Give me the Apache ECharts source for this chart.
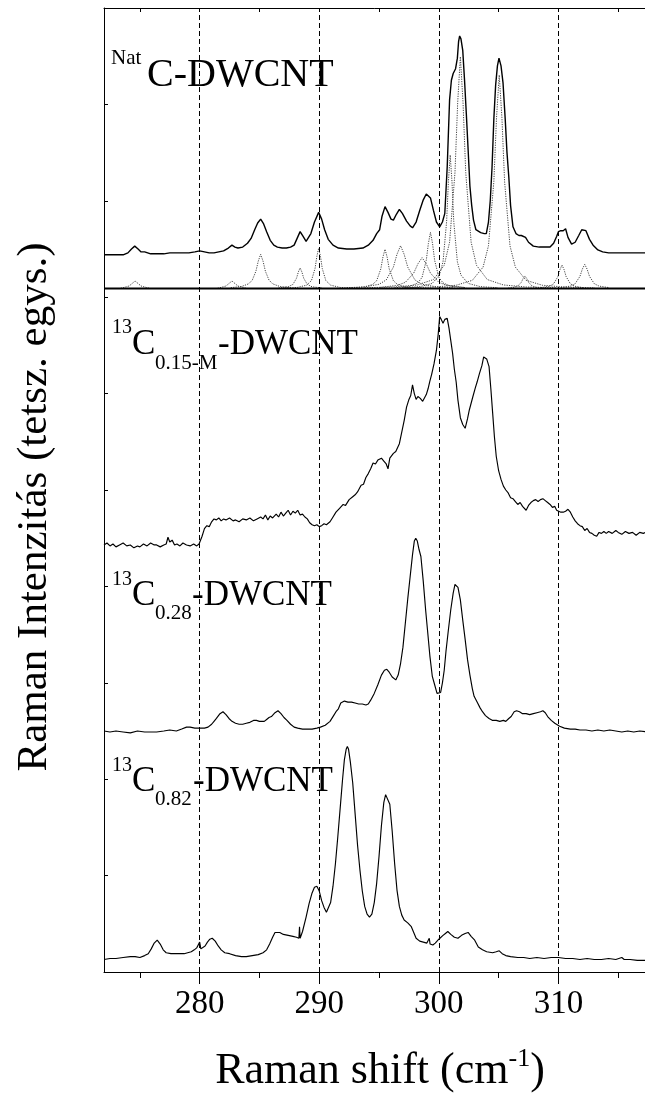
<!DOCTYPE html>
<html>
<head>
<meta charset="utf-8">
<script src="https://cdn.jsdelivr.net/npm/echarts@6/dist/echarts.min.js"></script>
<style>
  html, body { margin: 0; padding: 0; background: #fff; }
  #chart { width: 645px; height: 1099px; }
</style>
</head>
<body>
<div id="chart"></div>
<script>
// Raman shift ticks (cm^-1)
const shiftTicks = [280, 290, 300, 310];
const shiftMinorTicks = [275, 285, 295, 305, 315];

// NatC-DWCNT measured spectrum (shift, intensity offset in arbitrary units)
const natSpectrum = [
  [272.0,7.44],[272.5,7.44],[273.0,7.44],[273.6,7.44],[274.0,7.46],[274.3,7.50],[274.57,7.53],[274.85,7.50],
  [275.1,7.47],[275.4,7.47],[275.9,7.45],[276.4,7.45],[277.0,7.45],[277.5,7.46],[278.05,7.46],[278.6,7.46],
  [279.1,7.46],[279.6,7.47],[280.0,7.48],[280.4,7.47],[280.8,7.46],[281.2,7.46],[281.6,7.47],[282.0,7.48],
  [282.4,7.51],[282.7,7.54],[282.95,7.52],[283.2,7.51],[283.6,7.52],[284.0,7.56],[284.3,7.61],[284.6,7.70],
  [284.85,7.77],[285.1,7.81],[285.35,7.76],[285.6,7.68],[285.9,7.59],[286.2,7.54],[286.5,7.52],[286.9,7.51],
  [287.25,7.51],[287.6,7.52],[287.9,7.54],[288.15,7.61],[288.4,7.68],[288.65,7.63],[288.9,7.58],[289.05,7.58],
  [289.3,7.66],[289.6,7.78],[289.95,7.88],[290.2,7.81],[290.45,7.70],[290.75,7.60],[291.15,7.54],[291.6,7.51],
  [292.3,7.50],[292.9,7.50],[293.65,7.51],[294.1,7.54],[294.5,7.59],[294.8,7.66],[295.05,7.70],[295.25,7.84],
  [295.5,7.94],[295.75,7.88],[296.0,7.81],[296.2,7.80],[296.45,7.86],[296.7,7.91],[296.95,7.87],[297.3,7.79],
  [297.6,7.74],[297.8,7.72],[298.1,7.78],[298.4,7.90],[298.7,8.01],[298.95,8.07],[299.1,8.08],[299.3,8.03],
  [299.55,7.90],[299.8,7.78],[300.07,7.73],[300.3,7.78],[300.5,7.87],[300.7,8.35],[300.9,9.05],[301.05,9.25],
  [301.2,9.32],[301.4,9.37],[301.55,9.48],[301.65,9.65],[301.74,9.71],[301.85,9.68],[302.0,9.56],[302.15,9.25],
  [302.3,8.90],[302.45,8.53],[302.6,8.15],[302.75,7.95],[302.9,7.80],[303.1,7.70],[303.5,7.67],[303.8,7.66],
  [303.97,7.66],[304.15,7.78],[304.3,8.00],[304.45,8.35],[304.6,8.85],[304.75,9.20],[304.9,9.40],[305.03,9.48],
  [305.2,9.40],[305.37,9.22],[305.55,8.85],[305.7,8.50],[305.85,8.25],[306.0,7.95],[306.2,7.73],[306.45,7.66],
  [306.7,7.64],[306.9,7.64],[307.05,7.65],[307.25,7.62],[307.5,7.57],[307.9,7.53],[308.4,7.52],[308.9,7.52],
  [309.3,7.52],[309.6,7.56],[309.85,7.63],[310.0,7.68],[310.2,7.69],[310.4,7.69],[310.6,7.71],[310.8,7.62],
  [311.1,7.55],[311.4,7.57],[311.7,7.64],[311.95,7.70],[312.1,7.71],[312.3,7.69],[312.6,7.60],[312.9,7.54],
  [313.3,7.49],[313.7,7.47],[314.2,7.46],[314.7,7.46],[315.2,7.46],[315.8,7.46],[316.4,7.46],[317.0,7.46],
  [317.5,7.46]
];

// Zero line of the fitted components
const natFitBaseline = [[272.0, 7.09], [317.6, 7.09]];

// Fitted Lorentzian components of the NatC-DWCNT spectrum
const natFit274 = [[273.4,7.093],[273.6,7.099],[274.1,7.116],[274.35,7.142],[274.6,7.168],[274.85,7.142],[275.1,7.116],[275.6,7.099],[275.8,7.093]];
const natFit283 = [[281.5,7.093],[281.7,7.099],[282.2,7.116],[282.45,7.142],[282.7,7.168],[282.95,7.142],[283.2,7.116],[283.7,7.099],[283.9,7.093]];
const natFit285 = [[282.6,7.099],[283.5,7.111],[284.1,7.139],[284.4,7.177],[284.7,7.268],[284.9,7.374],[285.1,7.445],[285.3,7.374],[285.5,7.268],[285.8,7.177],[286.1,7.139],[286.7,7.111],[287.6,7.099]];
const natFit288 = [[286.6,7.096],[287.4,7.108],[287.8,7.133],[288.1,7.197],[288.25,7.261],[288.4,7.304],[288.55,7.261],[288.7,7.197],[289.0,7.133],[289.4,7.108],[290.2,7.096]];
const natFit290 = [[286.95,7.094],[288.15,7.101],[288.95,7.125],[289.35,7.173],[289.65,7.299],[289.8,7.424],[289.95,7.507],[290.1,7.424],[290.25,7.299],[290.55,7.173],[290.95,7.125],[291.75,7.101],[292.95,7.094]];
const natFit295 = [[292.5,7.095],[293.75,7.106],[294.45,7.131],[294.8,7.171],[295.15,7.294],[295.325,7.416],[295.5,7.497],[295.675,7.416],[295.85,7.294],[296.2,7.171],[296.55,7.131],[297.25,7.106],[298.5,7.095]];
const natFit297 = [[292.3,7.098],[293.8,7.107],[295.0,7.134],[295.6,7.179],[296.2,7.312],[296.5,7.445],[296.8,7.534],[297.1,7.445],[297.4,7.312],[298.0,7.179],[298.6,7.134],[299.8,7.107],[301.3,7.098]];
const natFit298 = [[295.1,7.102],[296.5,7.122],[297.2,7.154],[297.9,7.25],[298.25,7.346],[298.6,7.41],[298.95,7.346],[299.3,7.25],[300.0,7.154],[300.7,7.122],[302.1,7.102]];
const natFit299 = [[296.3,7.098],[297.55,7.112],[298.25,7.148],[298.6,7.207],[298.95,7.382],[299.125,7.556],[299.3,7.673],[299.475,7.556],[299.65,7.382],[300.0,7.207],[300.35,7.148],[301.05,7.112],[302.3,7.098]];
const natFit301 = [[296.95,7.098],[298.45,7.110],[299.45,7.143],[300.05,7.229],[300.35,7.367],[300.65,7.783],[300.8,8.198],[300.95,8.475],[301.1,8.198],[301.25,7.783],[301.55,7.367],[301.85,7.229],[302.45,7.143],[303.45,7.110],[304.95,7.098]];
const natFit302 = [[293.8,7.098],[296.3,7.106],[298.2,7.127],[299.55,7.183],[300.45,7.331],[300.9,7.571],[301.35,8.293],[301.575,9.014],[301.8,9.495],[302.025,9.014],[302.25,8.293],[302.7,7.571],[303.15,7.331],[304.05,7.183],[305.4,7.127],[307.3,7.106],[309.8,7.098]];
const natFit305 = [[297.05,7.097],[299.55,7.105],[301.45,7.124],[302.8,7.175],[303.7,7.312],[304.15,7.533],[304.6,8.198],[304.825,8.862],[305.05,9.305],[305.275,8.862],[305.5,8.198],[305.95,7.533],[306.4,7.312],[307.3,7.175],[308.65,7.124],[310.55,7.105],[313.05,7.097]];
const natFit307 = [[305.8,7.095],[306.2,7.101],[306.6,7.116],[306.9,7.155],[307.05,7.194],[307.2,7.22],[307.35,7.194],[307.5,7.155],[307.8,7.116],[308.2,7.101],[308.6,7.095]];
const natFit310 = [[308.55,7.099],[309.25,7.114],[309.6,7.139],[309.95,7.212],[310.125,7.285],[310.3,7.334],[310.475,7.285],[310.65,7.212],[311.0,7.139],[311.35,7.114],[312.05,7.099]];
const natFit312 = [[310.2,7.1],[311.0,7.115],[311.4,7.14],[311.8,7.216],[312.0,7.291],[312.2,7.341],[312.4,7.291],[312.6,7.216],[313.0,7.14],[313.4,7.115],[314.2,7.1]];

// 13C(0.15-M)-DWCNT spectrum
const c015mSpectrum = [
  [272.0,4.43],[272.25,4.45],[272.5,4.42],[272.75,4.44],[273.0,4.41],[273.3,4.43],[273.6,4.45],[273.9,4.42],
  [274.2,4.43],[274.5,4.40],[274.8,4.42],[275.0,4.41],[275.3,4.44],[275.6,4.42],[275.9,4.45],[276.2,4.43],
  [276.4,4.43],[276.7,4.41],[277.0,4.43],[277.2,4.44],[277.35,4.51],[277.5,4.46],[277.7,4.48],[277.9,4.43],
  [278.1,4.44],[278.35,4.42],[278.6,4.45],[278.9,4.43],[279.2,4.42],[279.5,4.44],[279.75,4.42],[279.95,4.44],
  [280.2,4.52],[280.4,4.60],[280.6,4.63],[280.8,4.62],[281.0,4.67],[281.2,4.70],[281.4,4.69],[281.6,4.71],
  [281.8,4.68],[282.0,4.70],[282.2,4.69],[282.5,4.71],[282.8,4.68],[283.0,4.69],[283.3,4.67],[283.6,4.70],
  [283.9,4.69],[284.2,4.71],[284.5,4.68],[284.8,4.70],[285.1,4.72],[285.3,4.70],[285.5,4.74],[285.7,4.69],
  [285.9,4.73],[286.1,4.71],[286.4,4.75],[286.6,4.72],[286.8,4.77],[287.0,4.73],[287.2,4.76],[287.4,4.79],
  [287.6,4.74],[287.8,4.78],[288.0,4.76],[288.2,4.79],[288.4,4.74],[288.6,4.75],[288.8,4.72],[289.0,4.70],
  [289.2,4.66],[289.4,4.64],[289.6,4.63],[289.8,4.64],[290.0,4.62],[290.2,4.63],[290.4,4.65],[290.6,4.64],
  [290.9,4.67],[291.1,4.71],[291.4,4.77],[291.7,4.81],[292.0,4.85],[292.2,4.84],[292.5,4.90],[292.8,4.93],
  [293.0,4.95],[293.2,4.98],[293.5,5.05],[293.7,5.06],[293.9,5.13],[294.1,5.17],[294.3,5.22],[294.5,5.28],
  [294.7,5.27],[294.9,5.31],[295.05,5.31],[295.2,5.33],[295.4,5.30],[295.6,5.27],[295.75,5.22],[295.9,5.33],
  [296.2,5.38],[296.4,5.40],[296.7,5.48],[296.9,5.60],[297.1,5.72],[297.3,5.86],[297.5,5.94],[297.65,5.98],
  [297.8,6.09],[297.95,6.00],[298.1,5.94],[298.25,5.97],[298.45,5.95],[298.65,5.92],[298.8,5.92],[298.95,5.99],
  [299.1,6.05],[299.25,6.13],[299.4,6.20],[299.6,6.31],[299.8,6.45],[299.95,6.62],[300.07,6.80],[300.2,6.77],
  [300.35,6.73],[300.5,6.77],[300.7,6.78],[300.85,6.68],[301.0,6.55],[301.15,6.42],[301.3,6.25],[301.45,6.12],
  [301.6,5.93],[301.8,5.75],[302.0,5.68],[302.2,5.64],[302.4,5.74],[302.55,5.83],[302.65,5.85],[302.85,5.97],
  [303.05,6.06],[303.2,6.12],[303.4,6.21],[303.6,6.29],[303.75,6.38],[303.85,6.40],[304.0,6.36],[304.2,6.28],
  [304.35,6.05],[304.5,5.80],[304.65,5.55],[304.8,5.35],[305.0,5.20],[305.2,5.11],[305.4,5.04],[305.6,5.00],
  [305.8,4.97],[306.0,4.92],[306.2,4.91],[306.4,4.88],[306.6,4.85],[306.8,4.87],[307.0,4.83],[307.3,4.79],
  [307.5,4.84],[307.7,4.87],[307.9,4.89],[308.1,4.90],[308.3,4.88],[308.5,4.90],[308.7,4.91],[308.9,4.89],
  [309.1,4.87],[309.3,4.85],[309.5,4.82],[309.7,4.83],[309.85,4.79],[310.0,4.80],[310.2,4.77],[310.4,4.77],
  [310.6,4.78],[310.8,4.80],[311.0,4.77],[311.2,4.72],[311.4,4.68],[311.6,4.65],[311.8,4.63],[312.0,4.62],
  [312.2,4.58],[312.4,4.60],[312.6,4.56],[312.8,4.55],[313.0,4.53],[313.2,4.52],[313.4,4.56],[313.6,4.55],
  [313.8,4.57],[314.0,4.55],[314.2,4.57],[314.5,4.55],[314.8,4.58],[315.0,4.56],[315.3,4.54],[315.6,4.57],
  [315.9,4.55],[316.2,4.56],[316.5,4.53],[316.8,4.56],[317.1,4.55],[317.5,4.57]
];

// 13C(0.28)-DWCNT spectrum
const c028Spectrum = [
  [272.0,2.50],[272.5,2.49],[273.0,2.50],[273.6,2.49],[274.2,2.48],[274.8,2.50],[275.4,2.49],[276.0,2.49],
  [276.4,2.49],[277.0,2.50],[277.5,2.51],[278.05,2.50],[278.5,2.52],[278.9,2.54],[279.2,2.54],[279.6,2.53],
  [280.0,2.53],[280.4,2.53],[280.7,2.54],[281.0,2.57],[281.2,2.60],[281.4,2.63],[281.7,2.68],[281.95,2.70],
  [282.2,2.67],[282.45,2.63],[282.7,2.60],[283.0,2.58],[283.3,2.57],[283.6,2.57],[283.9,2.58],[284.2,2.59],
  [284.5,2.61],[284.75,2.61],[285.0,2.60],[285.2,2.60],[285.4,2.60],[285.6,2.62],[285.8,2.64],[286.0,2.65],
  [286.3,2.69],[286.55,2.71],[286.8,2.68],[287.05,2.64],[287.3,2.61],[287.6,2.57],[287.9,2.54],[288.2,2.53],
  [288.6,2.52],[289.0,2.52],[289.4,2.52],[289.8,2.53],[290.1,2.54],[290.5,2.56],[290.9,2.60],[291.2,2.66],
  [291.4,2.70],[291.6,2.73],[291.8,2.79],[292.1,2.81],[292.4,2.80],[292.7,2.80],[293.0,2.79],[293.3,2.78],
  [293.6,2.78],[293.9,2.77],[294.1,2.78],[294.3,2.82],[294.6,2.89],[294.9,2.98],[295.2,3.08],[295.45,3.13],
  [295.65,3.14],[295.85,3.11],[296.1,3.06],[296.4,3.03],[296.6,3.08],[296.8,3.20],[297.0,3.37],[297.2,3.62],
  [297.4,3.87],[297.6,4.10],[297.8,4.33],[297.95,4.47],[298.07,4.50],[298.2,4.47],[298.35,4.38],[298.5,4.31],
  [298.7,4.05],[298.9,3.75],[299.05,3.55],[299.25,3.28],[299.45,3.07],[299.65,2.98],[299.85,2.89],[300.0,2.87],
  [300.15,2.90],[300.3,3.00],[300.45,3.13],[300.6,3.33],[300.8,3.55],[301.0,3.76],[301.2,3.93],[301.35,4.02],
  [301.45,4.03],[301.6,3.99],[301.8,3.86],[302.0,3.65],[302.2,3.45],[302.4,3.24],[302.6,3.08],[302.8,2.94],
  [302.95,2.86],[303.2,2.80],[303.45,2.74],[303.65,2.70],[303.9,2.66],[304.2,2.63],[304.5,2.61],[304.8,2.61],
  [305.1,2.60],[305.4,2.61],[305.6,2.60],[305.85,2.63],[306.05,2.65],[306.3,2.70],[306.5,2.71],[306.75,2.70],
  [307.0,2.68],[307.3,2.68],[307.6,2.67],[307.9,2.68],[308.2,2.69],[308.5,2.70],[308.7,2.71],[308.9,2.69],
  [309.1,2.65],[309.4,2.61],[309.7,2.58],[310.1,2.55],[310.5,2.53],[311.0,2.52],[311.4,2.52],[311.8,2.51],
  [312.3,2.51],[312.8,2.50],[313.3,2.51],[313.8,2.50],[314.3,2.51],[314.8,2.50],[315.3,2.49],[315.8,2.50],
  [316.3,2.49],[316.8,2.50],[317.5,2.49]
];

// 13C(0.82)-DWCNT spectrum
const c082Spectrum = [
  [272.0,0.13],[272.5,0.14],[273.0,0.14],[273.6,0.15],[274.2,0.16],[274.6,0.16],[275.0,0.15],[275.4,0.17],
  [275.7,0.19],[275.95,0.24],[276.2,0.30],[276.45,0.33],[276.7,0.29],[276.95,0.23],[277.2,0.20],[277.6,0.19],
  [278.0,0.19],[278.3,0.19],[278.7,0.19],[279.0,0.20],[279.3,0.21],[279.55,0.23],[279.75,0.25],[279.9,0.24],
  [280.0,0.31],[280.1,0.24],[280.25,0.23],[280.45,0.27],[280.65,0.31],[280.85,0.34],[281.05,0.35],[281.3,0.32],
  [281.55,0.27],[281.8,0.23],[282.1,0.20],[282.5,0.19],[283.0,0.17],[283.5,0.16],[283.9,0.16],[284.4,0.17],
  [284.9,0.18],[285.3,0.20],[285.6,0.23],[285.85,0.29],[286.1,0.36],[286.3,0.41],[286.45,0.43],[286.7,0.41],
  [287.0,0.39],[287.4,0.38],[287.8,0.37],[288.1,0.36],[288.3,0.35],[288.35,0.47],[288.4,0.35],[288.6,0.42],
  [288.9,0.57],[289.15,0.71],[289.4,0.82],[289.6,0.88],[289.8,0.89],[290.0,0.84],[290.2,0.74],[290.4,0.67],
  [290.6,0.62],[290.75,0.62],[290.95,0.72],[291.15,0.89],[291.35,1.12],[291.55,1.40],[291.75,1.70],[291.95,2.00],
  [292.1,2.20],[292.25,2.31],[292.35,2.34],[292.45,2.31],[292.6,2.18],[292.8,1.96],[293.0,1.64],[293.2,1.32],
  [293.4,1.06],[293.6,0.84],[293.8,0.68],[294.0,0.60],[294.2,0.57],[294.4,0.60],[294.6,0.72],[294.8,0.92],
  [295.0,1.20],[295.2,1.52],[295.4,1.76],[295.55,1.84],[295.7,1.82],[295.9,1.74],[296.1,1.46],[296.3,1.13],
  [296.5,0.85],[296.7,0.68],[296.9,0.59],[297.1,0.54],[297.4,0.51],[297.7,0.47],[297.9,0.41],[298.1,0.35],
  [298.4,0.32],[298.7,0.31],[299.0,0.30],[299.15,0.31],[299.2,0.35],[299.27,0.29],[299.5,0.28],[299.7,0.30],
  [300.0,0.34],[300.35,0.38],[300.55,0.40],[300.75,0.42],[301.0,0.39],[301.3,0.36],[301.6,0.35],[301.9,0.38],
  [302.2,0.40],[302.45,0.41],[302.7,0.37],[303.0,0.33],[303.3,0.26],[303.65,0.23],[304.0,0.21],[304.5,0.20],
  [304.8,0.21],[305.05,0.22],[305.3,0.19],[305.6,0.17],[306.0,0.16],[306.6,0.15],[307.1,0.15],[307.6,0.14],
  [308.2,0.15],[308.8,0.14],[309.4,0.15],[310.0,0.15],[310.6,0.14],[311.2,0.14],[311.8,0.13],[312.4,0.14],
  [313.0,0.13],[313.6,0.13],[314.2,0.14],[314.8,0.13],[315.3,0.15],[315.5,0.13],[316.0,0.13],[316.6,0.12],
  [317.5,0.12]
];

const natFitComponents = [
  natFit274, natFit283, natFit285, natFit288, natFit290, natFit295, natFit297, natFit298,
  natFit299, natFit301, natFit302, natFit305, natFit307, natFit310, natFit312
];

const SERIF = 'Liberation Serif';
const chart = echarts.init(document.getElementById('chart'), null, { renderer: 'canvas' });

function spectrumSeries(name, data, width) {
  return {
    name, type: 'line', data, xAxisIndex: 0, yAxisIndex: 0,
    symbol: 'none', silent: true, z: 3,
    lineStyle: { color: '#000', width: width }
  };
}

const series = [];
natFitComponents.forEach((comp, i) => {
  series.push({
    name: 'fit' + i, type: 'line', data: comp, symbol: 'none', silent: true, z: 2,
    lineStyle: { color: '#444', width: 1, type: [1.2, 1.2] }
  });
});
series.push({
  name: 'fitBaseline', type: 'line', data: natFitBaseline, symbol: 'none', silent: true, z: 2,
  lineStyle: { color: '#000', width: 2.2 },
  markLine: {
    silent: true, symbol: ['none', 'none'], label: { show: false },
    lineStyle: { color: '#000', width: 1, type: [5, 3] },
    data: shiftTicks.map(v => ({ xAxis: v }))
  }
});
series.push(spectrumSeries('NatC-DWCNT', natSpectrum, 1.4));
series.push(spectrumSeries('13C0.15-M-DWCNT', c015mSpectrum, 1.15));
series.push(spectrumSeries('13C0.28-DWCNT', c028Spectrum, 1.15));
series.push(spectrumSeries('13C0.82-DWCNT', c082Spectrum, 1.15));

// Sample labels: main text, superscript isotope and subscript fraction drawn as separate pieces
function piece(text, x, y, size) {
  return {
    type: 'text', x, y, silent: true, z: 10,
    style: { text, fill: '#000', fontFamily: SERIF, fontSize: size, align: 'left', verticalAlign: 'middle' }
  };
}
const labels = [
  piece('Nat', 111, 58, 21), piece('C-DWCNT', 147, 75.5, 40),
  piece('13', 112, 328, 20), piece('C', 132, 345, 35), piece('0.15-M', 155, 363, 21), piece('-DWCNT', 218, 345, 35),
  piece('13', 112, 580, 20), piece('C', 132, 595.5, 35), piece('0.28', 155, 613, 21), piece('-DWCNT', 192, 595.5, 35),
  piece('13', 112, 766, 20), piece('C', 132, 781.5, 35), piece('0.82', 155, 799, 21), piece('-DWCNT', 193, 781.5, 35)
];

const axisBlack = { color: '#000', width: 1 };

chart.setOption({
  animation: false,
  backgroundColor: '#fff',
  grid: { left: 104, top: 8, width: 574, height: 964, containLabel: false, outerBoundsMode: 'none' },
  xAxis: [
    {
      type: 'value', min: 272, max: 320, position: 'bottom',
      axisLine: { show: true, lineStyle: axisBlack },
      axisTick: { show: true, inside: false, length: 12, customValues: shiftTicks, lineStyle: axisBlack },
      axisLabel: { show: true, customValues: shiftTicks, margin: 16, fontSize: 33, fontFamily: SERIF, color: '#000' },
      splitLine: { show: false },
      name: '{m|Raman shift (cm}{s|-1}{m|)}',
      nameLocation: 'middle', nameGap: 74,
      nameTextStyle: {
        color: '#000', fontFamily: SERIF, fontSize: 44, padding: [0, 22, 0, 0],
        rich: {
          m: { fontFamily: SERIF, fontSize: 44, color: '#000', lineHeight: 50 },
          s: { fontFamily: SERIF, fontSize: 26, color: '#000', verticalAlign: 'top' }
        }
      }
    },
    {
      type: 'value', min: 272, max: 320, position: 'bottom', offset: 0,
      axisLine: { show: false },
      axisTick: { show: true, inside: false, length: 6, customValues: shiftMinorTicks, lineStyle: axisBlack },
      axisLabel: { show: false },
      splitLine: { show: false }
    },
    {
      type: 'value', min: 272, max: 320, position: 'top', offset: 0,
      axisLine: { show: true, lineStyle: axisBlack },
      axisTick: { show: true, inside: true, length: 4, customValues: shiftMinorTicks.concat(shiftTicks), lineStyle: axisBlack },
      axisLabel: { show: false },
      splitLine: { show: false }
    }
  ],
  yAxis: {
    type: 'value', min: 0, max: 10, interval: 1,
    axisLine: { show: true, lineStyle: axisBlack },
    axisTick: { show: true, inside: true, length: 4, lineStyle: axisBlack },
    axisLabel: { show: false },
    splitLine: { show: false },
    name: 'Raman Intenzitás (tetsz. egys.)',
    nameLocation: 'middle', nameGap: 48, nameRotate: 90,
    nameTextStyle: { color: '#000', fontFamily: SERIF, fontSize: 43, padding: [0, 34, 0, 0] }
  },
  series,
  graphic: labels
});
</script>
</body>
</html>
